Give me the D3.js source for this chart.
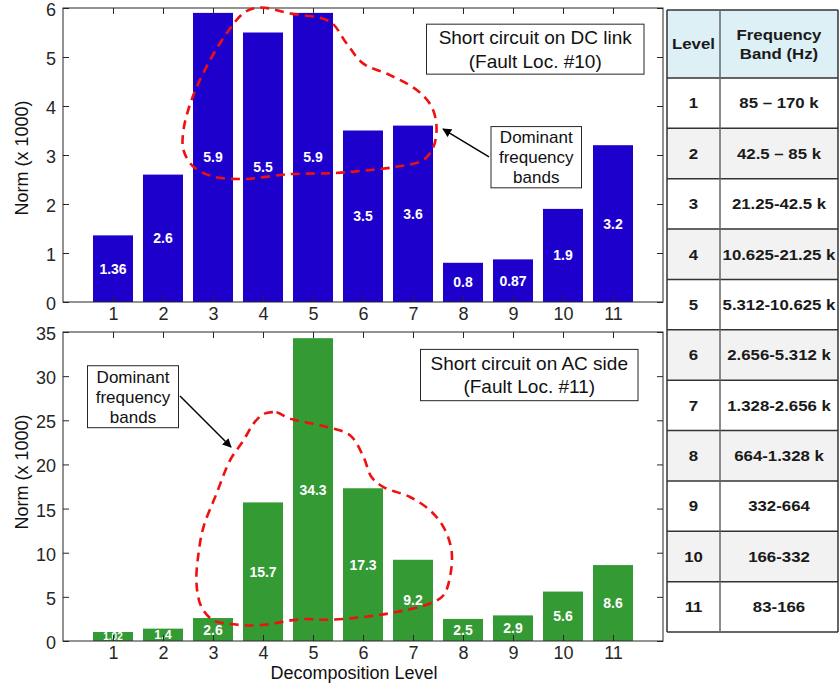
<!DOCTYPE html>
<html>
<head>
<meta charset="utf-8">
<script src="https://cdn.jsdelivr.net/npm/d3@7/dist/d3.min.js"></script>
<style>
  html, body { margin: 0; padding: 0; background: #fff; }
  svg { display: block; }
  text { font-family: "Liberation Sans", Arial, sans-serif; }
</style>
</head>
<body>
<svg id="chart" width="840" height="687"></svg>
<script>
// Wavelet decomposition levels and the norm of the detail coefficients (x 1000)
const levels = [1, 2, 3, 4, 5, 6, 7, 8, 9, 10, 11];
const dcNorm = [1.36, 2.6, 5.9, 5.5, 5.9, 3.5, 3.6, 0.8, 0.87, 1.9, 3.2];
const acNorm = [1.02, 1.4, 2.6, 15.7, 34.3, 17.3, 9.2, 2.5, 2.9, 5.6, 8.6];

// Axis ticks
const dcTicks = [0, 1, 2, 3, 4, 5, 6];
const acTicks = [0, 5, 10, 15, 20, 25, 30, 35];

// Frequency band table
const bandLevels = ["1", "2", "3", "4", "5", "6", "7", "8", "9", "10", "11"];
const bandRanges = ["85 \u2013 170 k", "42.5 \u2013 85 k", "21.25-42.5 k", "10.625-21.25 k",
  "5.312-10.625 k", "2.656-5.312 k", "1.328-2.656 k", "664-1.328 k", "332-664", "166-332", "83-166"];

// Outlines of the dominant bands, in (level, norm) units
const dcRegion = [[3.94, 6.01], [4.54, 5.89], [5.34, 5.72], [5.67, 5.28], [6.0, 4.87], [6.54, 4.63],
  [7.07, 4.33], [7.37, 3.99], [7.47, 3.58], [7.41, 3.17], [7.21, 2.9], [6.67, 2.76], [6.01, 2.68],
  [5.41, 2.63], [4.54, 2.61], [3.61, 2.51], [3.01, 2.56], [2.61, 2.76], [2.41, 3.1], [2.41, 3.51],
  [2.57, 4.12], [2.87, 4.8], [3.27, 5.48], [3.64, 5.92]];
const acRegion = [[4.07, 25.82], [4.27, 25.9], [4.54, 25.19], [5.14, 24.43], [5.74, 23.3], [6.01, 20.84],
  [6.17, 18.57], [6.41, 17.44], [6.94, 16.31], [7.34, 14.8], [7.61, 12.91], [7.77, 10.27], [7.74, 7.25],
  [7.61, 5.18], [7.34, 4.24], [6.67, 3.28], [6.01, 2.72], [5.34, 2.42], [4.74, 2.46], [3.94, 1.78],
  [3.41, 1.89], [3.01, 2.34], [2.77, 3.85], [2.67, 6.5], [2.71, 9.9], [2.81, 12.91], [3.07, 16.69],
  [3.34, 20.46], [3.61, 22.73], [3.81, 24.62], [3.97, 25.56]];

const svg = d3.select("#chart");
const axisColor = "#262626";

const x = d3.scaleLinear().domain([0, 12]).range([63, 663]);
const barW = x(0.8) - x(0);

const yDC = d3.scaleLinear().domain([0, 6]).range([302, 8]);
const yAC = d3.scaleLinear().domain([0, 35]).range([641, 332]);

svg.append("defs").append("marker")
  .attr("id", "arrowHead")
  .attr("viewBox", "0 0 10 10")
  .attr("refX", 9).attr("refY", 5)
  .attr("markerWidth", 9).attr("markerHeight", 9)
  .attr("markerUnits", "userSpaceOnUse")
  .attr("orient", "auto")
  .append("path")
  .attr("d", "M0,0 L10,5 L0,10 Z")
  .attr("fill", "#000");

function drawPanel(opts) {
  const { y, values, ticks, color, region, title, arrowFrom, arrowTo, box, noteBox, labelSize } = opts;
  const g = svg.append("g");

  // bars
  g.selectAll("rect.bar").data(values).join("rect")
    .attr("class", "bar")
    .attr("x", (d, i) => x(levels[i]) - barW / 2)
    .attr("width", barW)
    .attr("y", d => y(d))
    .attr("height", d => y(0) - y(d))
    .attr("fill", color);

  // value labels inside bars (short bars get a smaller font)
  g.selectAll("text.val").data(values).join("text")
    .attr("class", "val")
    .attr("x", (d, i) => x(levels[i]))
    .attr("y", d => y(d / 2))
    .attr("dy", "0.36em")
    .attr("text-anchor", "middle")
    .attr("font-weight", "bold")
    .attr("font-size", (d, i) => (labelSize[i] !== undefined ? labelSize[i] : 14))
    .attr("fill", "#fff")
    .text(d => String(d));

  const [y0, y1] = y.range();

  // axes with inward ticks on all four sides
  const left = g.append("g").attr("transform", `translate(${x(0)},0)`)
    .call(d3.axisLeft(y).tickValues(ticks).tickSize(-6).tickPadding(7).tickFormat(d3.format("d")));
  const right = g.append("g").attr("transform", `translate(${x(12)},0)`)
    .call(d3.axisRight(y).tickValues(ticks).tickSize(-6).tickFormat(""));
  const bottom = g.append("g").attr("transform", `translate(0,${y0})`)
    .call(d3.axisBottom(x).tickValues(levels).tickSize(-6).tickPadding(5).tickFormat(d3.format("d")));
  const top = g.append("g").attr("transform", `translate(0,${y1})`)
    .call(d3.axisTop(x).tickValues(levels).tickSize(-6).tickFormat(""));
  [left, right, bottom, top].forEach(a => {
    a.select(".domain").remove();
    a.selectAll("line").attr("stroke", axisColor);
    a.selectAll("text").attr("fill", axisColor).attr("font-size", 18)
      .attr("font-family", "'Liberation Sans', Arial, sans-serif");
  });
  left.selectAll("text").attr("dy", "0.42em");
  g.append("rect")
    .attr("x", x(0)).attr("y", y1)
    .attr("width", x(12) - x(0)).attr("height", y0 - y1)
    .attr("fill", "none").attr("stroke", axisColor).attr("stroke-width", 1);

  // y label
  g.append("text")
    .attr("transform", `translate(22,${opts.ylabelY}) rotate(-90)`)
    .attr("text-anchor", "middle")
    .attr("dy", "0.35em")
    .attr("font-size", 18)
    .attr("fill", "#111")
    .text("Norm (x 1000)");

  // dominant band outline
  g.append("path")
    .datum(region)
    .attr("d", d3.line().x(d => x(d[0])).y(d => y(d[1])).curve(d3.curveCatmullRomClosed.alpha(0.5)))
    .attr("fill", "none")
    .attr("stroke", "#f01010")
    .attr("stroke-width", 2.6)
    .attr("stroke-dasharray", "9,6");

  // fault description box
  const bx0 = x(box.x0), bx1 = x(box.x1), by0 = y(box.y0), by1 = y(box.y1);
  g.append("rect")
    .attr("x", bx0).attr("y", by0).attr("width", bx1 - bx0).attr("height", by1 - by0)
    .attr("fill", "#fff").attr("stroke", axisColor).attr("stroke-width", 1);
  const tcx = (bx0 + bx1) / 2, tcy = (by0 + by1) / 2;
  title.forEach((line, i) => {
    g.append("text")
      .attr("x", tcx).attr("y", tcy + (i - (title.length - 1) / 2) * 23.5)
      .attr("dy", "0.35em")
      .attr("text-anchor", "middle")
      .attr("font-size", 19)
      .attr("fill", "#111")
      .text(line);
  });

  // "Dominant frequency bands" note with its arrow
  const nx0 = x(noteBox.x0), nx1 = x(noteBox.x1), ny0 = y(noteBox.y0), ny1 = y(noteBox.y1);
  g.append("rect")
    .attr("x", nx0).attr("y", ny0).attr("width", nx1 - nx0).attr("height", ny1 - ny0)
    .attr("fill", "#fff").attr("stroke", axisColor).attr("stroke-width", 1);
  const note = ["Dominant", "frequency", "bands"];
  const ncx = (nx0 + nx1) / 2, ncy = (ny0 + ny1) / 2;
  note.forEach((line, i) => {
    g.append("text")
      .attr("x", ncx).attr("y", ncy + (i - 1) * 20)
      .attr("dy", "0.35em")
      .attr("text-anchor", "middle")
      .attr("font-size", 17)
      .attr("fill", "#111")
      .text(line);
  });
  g.append("line")
    .attr("x1", x(arrowFrom[0])).attr("y1", y(arrowFrom[1]))
    .attr("x2", x(arrowTo[0])).attr("y2", y(arrowTo[1]))
    .attr("stroke", "#000").attr("stroke-width", 1.4)
    .attr("marker-end", "url(#arrowHead)");
}

drawPanel({
  y: yDC, values: dcNorm, ticks: dcTicks, color: "#1e00cc", region: dcRegion,
  title: ["Short circuit on DC link", "(Fault Loc. #10)"],
  box: { x0: 7.27, x1: 11.62, y0: 5.67, y1: 4.65 },
  noteBox: { x0: 8.56, x1: 10.37, y0: 3.58, y1: 2.33 },
  arrowFrom: [8.52, 2.96], arrowTo: [7.6, 3.53],
  labelSize: {}, ylabelY: 158
});

drawPanel({
  y: yAC, values: acNorm, ticks: acTicks, color: "#349a34", region: acRegion,
  title: ["Short circuit on AC side", "(Fault Loc. #11)"],
  box: { x0: 7.15, x1: 11.5, y0: 33.03, y1: 27.22 },
  noteBox: { x0: 0.49, x1: 2.31, y0: 31.18, y1: 24.16 },
  arrowFrom: [2.34, 27.75], arrowTo: [3.36, 21.97],
  labelSize: { 0: 10, 1: 12.5 }, ylabelY: 472
});

// x axis title
svg.append("text")
  .attr("x", 354).attr("y", 673)
  .attr("dy", "0.35em")
  .attr("text-anchor", "middle")
  .attr("font-size", 18)
  .attr("fill", "#111")
  .text("Decomposition Level");

// frequency band table
const tbl = svg.append("g");
const colX = [667, 720, 838];
const headTop = 10, headBottom = 78, rowH = (632 - 78) / bandLevels.length;
const rowY = i => headBottom + i * rowH;

tbl.append("rect").attr("x", colX[0]).attr("y", headTop)
  .attr("width", colX[2] - colX[0]).attr("height", headBottom - headTop).attr("fill", "#dcf0f5");
bandLevels.forEach((lv, i) => {
  tbl.append("rect").attr("x", colX[0]).attr("y", rowY(i))
    .attr("width", colX[2] - colX[0]).attr("height", rowH)
    .attr("fill", i % 2 === 1 ? "#f2f2f2" : "#ffffff");
});

const gridColor = "#333";
[headTop, headBottom, ...bandLevels.map((d, i) => rowY(i + 1))].forEach(yy => {
  tbl.append("line").attr("x1", colX[0]).attr("x2", colX[2]).attr("y1", yy).attr("y2", yy)
    .attr("stroke", gridColor).attr("stroke-width", 1.5);
});
colX.forEach((xx, i) => {
  tbl.append("line").attr("x1", xx).attr("x2", xx).attr("y1", headTop).attr("y2", rowY(bandLevels.length))
    .attr("stroke", i === 1 ? "#666" : gridColor).attr("stroke-width", 1.5);
});

function cellText(cx, cy, str) {
  tbl.append("text")
    .attr("transform", `translate(${cx},${cy}) scale(1.12,1)`)
    .attr("dy", "0.35em")
    .attr("text-anchor", "middle")
    .attr("font-weight", "bold")
    .attr("font-size", 15)
    .attr("fill", "#1a1a1a")
    .text(str);
}
const c1 = (colX[0] + colX[1]) / 2, c2 = (colX[1] + colX[2]) / 2;
cellText(c1, 44, "Level");
cellText(c2, 35, "Frequency");
cellText(c2, 54, "Band (Hz)");
bandLevels.forEach((lv, i) => {
  const cy = rowY(i) + rowH / 2;
  cellText(c1, cy, lv);
  cellText(c2, cy, bandRanges[i]);
});
</script>
</body>
</html>
